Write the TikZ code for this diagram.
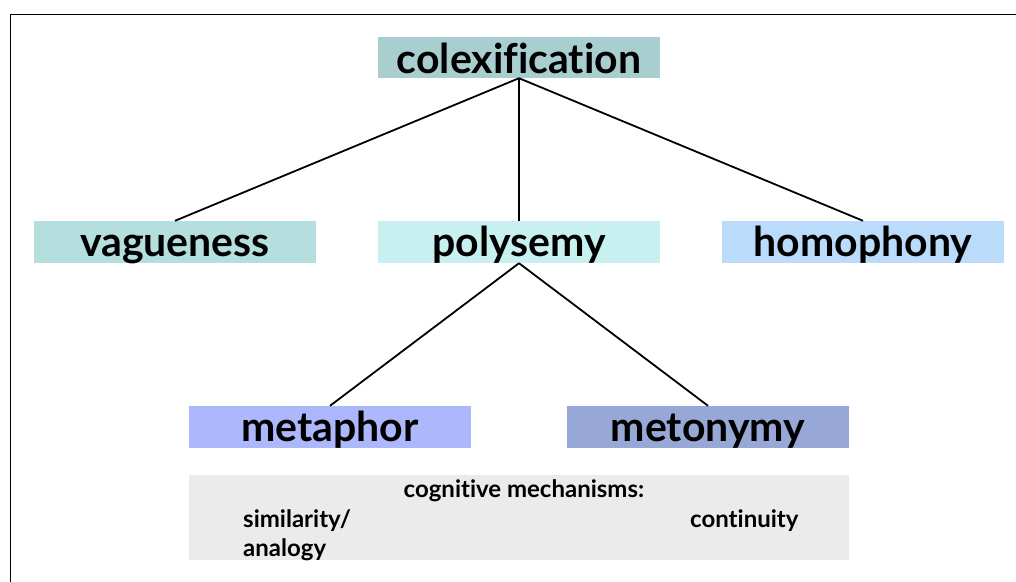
\documentclass[tikz,border=0pt]{standalone}
\usepackage{fontspec}
\setmainfont{Lato}[Ligatures={NoCommon,NoRequired}]
\definecolor{colexc}{HTML}{A8CED0}
\definecolor{vaguec}{HTML}{B5DFDF}
\definecolor{polyc}{HTML}{C8F0F0}
\definecolor{homoc}{HTML}{BADCFA}
\definecolor{metac}{HTML}{ADB7FC}
\definecolor{metoc}{HTML}{97A8D6}
\definecolor{mechc}{HTML}{EBEBEB}
\begin{document}
\begin{tikzpicture}[
    x=1pt, y=-1pt,
    term/.style={minimum width=282pt,minimum height=42pt,inner sep=0pt,
        text height=35pt,text depth=7pt,
        font=\fontsize{41}{43}\selectfont\bfseries},
    small/.style={font=\fontsize{24}{26}\selectfont\bfseries,inner sep=0pt,anchor=base}]
    \clip (0,0) rectangle (1016,581);
    \fill[white] (0,0) rectangle (1016,581);
    \draw[line width=1.6pt] (10.5,600) -- (10.5,14.5) -- (1030,14.5);
    \node[term,fill=colexc,minimum height=41pt,text height=36pt,text depth=5pt]
        (colex) at (519,57.5) {colexification};
    \node[term,fill=vaguec] (vague) at (175,242) {vagueness};
    \node[term,fill=polyc] (poly) at (519,242) {polysemy};
    \node[term,fill=homoc] (homo) at (863,242) {homophony};
    \node[term,fill=metac] (meta) at (330,427) {metaphor};
    \node[term,fill=metoc] (meto) at (708,427) {metonymy};
    \fill[mechc] (189,475) rectangle (849,560);
    \node[small] (mech) at (524,497) {cognitive mechanisms:};
    \node[small,anchor=base west] (simil) at (243,527) {similarity/};
    \node[small,anchor=base west] (analog) at (243,556) {analogy};
    \node[small,anchor=base west] (contin) at (690,527) {continuity};
    \draw[line width=1.8pt] (colex.south) -- (vague.north)
        (colex.south) -- (poly.north)
        (colex.south) -- (homo.north);
    \draw[line width=1.8pt] (poly.south) -- (meta.north)
        (poly.south) -- (meto.north);
\end{tikzpicture}
\end{document}
